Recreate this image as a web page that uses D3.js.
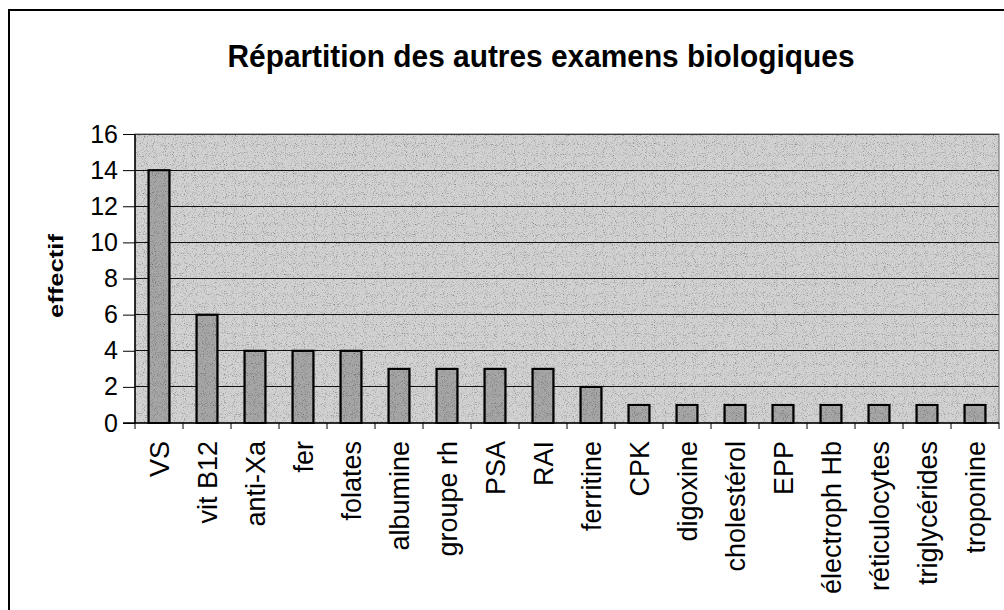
<!DOCTYPE html>
<html><head><meta charset="utf-8">
<script src="https://cdn.jsdelivr.net/npm/d3@7"></script>
<style>html,body{margin:0;padding:0;background:#fff;}svg{display:block;}</style>
</head><body>
<svg id="chart" width="1004" height="610"></svg>
<script>
const categories = ["VS","vit B12","anti-Xa","fer","folates","albumine","groupe rh","PSA","RAI","ferritine","CPK","digoxine","cholestérol","EPP","électroph Hb","réticulocytes","triglycérides","troponine"];
const values = [14,6,4,4,4,3,3,3,3,2,1,1,1,1,1,1,1,1];
const yTicks = [0,2,4,6,8,10,12,14,16];
const titleText = "Répartition des autres examens biologiques";
const yLabel = "effectif";

const svg = d3.select("#chart");
const font = "'Liberation Sans', Arial, sans-serif";

// speckled texture filter (scanned halftone look)
const defs = svg.append("defs");
const f = defs.append("filter").attr("id","noise").attr("x",0).attr("y",0).attr("width","100%").attr("height","100%");
f.append("feTurbulence").attr("type","fractalNoise").attr("baseFrequency",1.1).attr("numOctaves",1).attr("seed",5).attr("result","t");
f.append("feColorMatrix").attr("in","t").attr("type","matrix")
 .attr("values","2.2 0 0 0 -0.05  2.2 0 0 0 -0.05  2.2 0 0 0 -0.05  0 0 0 0 1").attr("result","g");
f.append("feComposite").attr("in","g").attr("in2","SourceGraphic").attr("operator","in").attr("result","gc");
f.append("feBlend").attr("in","gc").attr("in2","SourceGraphic").attr("mode","multiply");

// outer frame
svg.append("path").attr("d","M9,611 L9,10 L1005,10").attr("fill","none").attr("stroke","#000").attr("stroke-width",2);

const m = {left:135, right:999, top:134, bottom:423};
const x = d3.scaleBand().domain(categories).range([m.left, m.right]).paddingInner(0.56).paddingOuter(0.28);
const y = d3.scaleLinear().domain([0,16]).range([m.bottom, m.top]);

// plot background
svg.append("rect").attr("x",m.left).attr("y",m.top).attr("width",m.right-m.left).attr("height",m.bottom-m.top)
  .attr("fill","#d2d2d2").attr("filter","url(#noise)");

// gridlines
svg.append("g").selectAll("line").data(yTicks.filter(d=>d>0)).join("line")
  .attr("x1",m.left).attr("x2",m.right).attr("y1",d=>y(d)).attr("y2",d=>y(d))
  .attr("stroke","#111").attr("stroke-width",1).attr("shape-rendering","crispEdges");

// plot border
svg.append("rect").attr("x",m.left).attr("y",m.top).attr("width",m.right-m.left).attr("height",m.bottom-m.top)
  .attr("fill","none").attr("stroke","#666").attr("stroke-width",1);

// bars
svg.append("g").selectAll("rect").data(values).join("rect")
  .attr("x",(d,i)=>x(categories[i])).attr("width",x.bandwidth())
  .attr("y",d=>y(d)).attr("height",d=>y(0)-y(d))
  .attr("fill","#a6a6a6").attr("stroke","#000").attr("stroke-width",2).attr("filter","url(#noise)");
svg.append("g").selectAll("rect").data(values).join("rect")
  .attr("x",(d,i)=>x(categories[i])).attr("width",x.bandwidth())
  .attr("y",d=>y(d)).attr("height",d=>y(0)-y(d))
  .attr("fill","none").attr("stroke","#000").attr("stroke-width",2);

// y axis
const yAxis = svg.append("g").attr("transform",`translate(${m.left},0)`)
  .call(d3.axisLeft(y).tickValues(yTicks).tickSize(12).tickPadding(5).tickFormat(d3.format("d")));
yAxis.select(".domain").attr("stroke","#000").attr("stroke-width",1.5).attr("d",`M0,${m.top}V${m.bottom}`);
yAxis.selectAll(".tick line").attr("stroke","#000");
yAxis.selectAll("text").attr("font-family",font).attr("font-size",25).attr("fill","#000");

// x axis with boundary ticks
const bw = (m.right-m.left)/categories.length;
const xg = svg.append("g");
xg.append("line").attr("x1",m.left-12).attr("x2",m.right).attr("y1",m.bottom).attr("y2",m.bottom).attr("stroke","#000").attr("stroke-width",1.5);
xg.selectAll("line.tk").data(d3.range(categories.length+1)).join("line").attr("class","tk")
  .attr("x1",i=>m.left+i*bw).attr("x2",i=>m.left+i*bw).attr("y1",m.bottom).attr("y2",m.bottom+6)
  .attr("stroke","#000");
xg.selectAll("text").data(categories).join("text")
  .attr("transform",d=>`translate(${x(d)+x.bandwidth()/2+10},441) rotate(-90)`)
  .attr("text-anchor","end").attr("font-family",font).attr("font-size",27).attr("fill","#000").text(d=>d);

// title
svg.append("text").attr("x",541).attr("y",67).attr("text-anchor","middle")
  .attr("font-family",font).attr("font-size",31).attr("font-weight","bold")
  .attr("textLength",627).attr("lengthAdjust","spacingAndGlyphs").text(titleText);

// y label
svg.append("text").attr("transform","translate(63,276) rotate(-90)").attr("text-anchor","middle")
  .attr("font-family",font).attr("font-size",20).attr("font-weight","bold")
  .attr("textLength",84).attr("lengthAdjust","spacingAndGlyphs").text(yLabel);
</script>
</body></html>
